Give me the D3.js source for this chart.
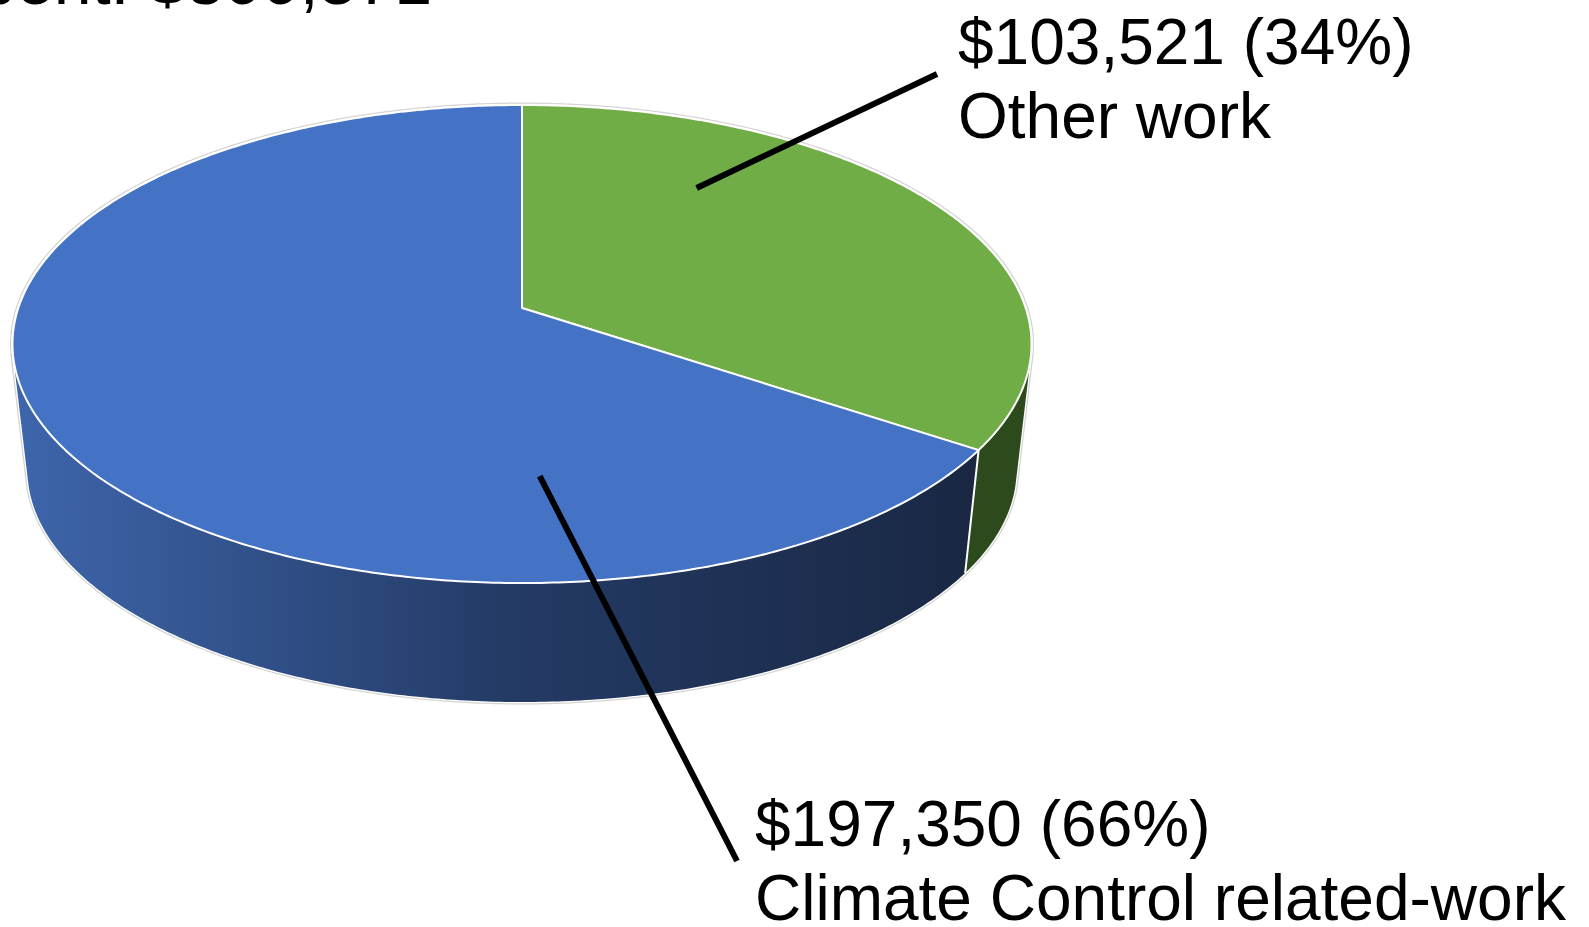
<!DOCTYPE html>
<html>
<head>
<meta charset="utf-8">
<script src="https://cdn.jsdelivr.net/npm/d3@7"></script>
<style>
  body { margin: 0; background: #fff; }
  text { font-family: "Liberation Sans", Arial, sans-serif; fill: #000; }
</style>
</head>
<body>
<script>
// chart data
var categories = ["Other work", "Climate Control related-work"];
var values = [103521, 197350];
var titlePrefix = "Total spent: ";

// size of the page
var width = 1589,
    height = 927;

// perspective of the 3D disc (top face is a projected circle)
var cx = 522, cy = 308;          // projected centre of the top face
var a = 233.6, b = -0.1507, c = 503.7;
var vx = 522, vy = 4630, k = 0.9706;  // bottom face = top face scaled toward vanishing point

function proj(angle, r, bottom) {
  var X = r * Math.sin(angle), z = -r * Math.cos(angle);
  var den = 1 + b * z;
  var x = cx + c * X / den, y = cy + a * z / den;
  if (bottom) { x = vx + k * (x - vx); y = vy + k * (y - vy); }
  return [x, y];
}

function arcPoints(a0, a1, bottom) {
  var n = Math.max(2, Math.ceil((a1 - a0) / 0.01));
  return d3.range(n + 1).map(function(i) { return proj(a0 + (a1 - a0) * i / n, 1, bottom); });
}

// side wall as a union of small quads, all wound the same way
function wallPath(a0, a1) {
  var t = arcPoints(a0, a1, false), bt = arcPoints(a0, a1, true), s = "";
  for (var i = 0; i < t.length - 1; i++) {
    var q = [t[i], t[i + 1], bt[i + 1], bt[i]];
    if (d3.polygonArea(q) < 0) q.reverse();
    s += line(q) + "Z";
  }
  return s;
}

var line = d3.line();

var svg = d3.select("body").append("svg")
    .attr("width", width)
    .attr("height", height);

// gradient for the blue side wall
var defs = svg.append("defs");
var grad = defs.append("linearGradient")
    .attr("id", "blueSide")
    .attr("gradientUnits", "userSpaceOnUse")
    .attr("x1", 12).attr("x2", 1031).attr("y1", 0).attr("y2", 0);
grad.append("stop").attr("offset", 0).attr("stop-color", "#3e66ac");
grad.append("stop").attr("offset", 0.48).attr("stop-color", "#243b66");
grad.append("stop").attr("offset", 1).attr("stop-color", "#18253f");

var topColors = ["#70ad47", "#4472c4"];
var sideColors = ["#2d4a1d", "url(#blueSide)"];

var pie = d3.pie().sort(null).value(function(d) { return d; });
var arcs = pie(values);

// outer silhouette: grey halo with a thin white rim inside it
var hull = d3.polygonHull(arcPoints(0, 2 * Math.PI, false).concat(arcPoints(0, 2 * Math.PI, true)));
svg.append("path")
    .attr("d", line(hull) + "Z")
    .attr("fill", "#fff")
    .attr("stroke", "#d4d4d4")
    .attr("stroke-width", 5)
    .attr("stroke-linejoin", "round");
svg.append("path")
    .attr("d", line(hull) + "Z")
    .attr("fill", "none")
    .attr("stroke", "#fff")
    .attr("stroke-width", 2.5)
    .attr("stroke-linejoin", "round");

// side walls
svg.selectAll(".side")
    .data(arcs)
    .enter().append("path")
    .attr("class", "side")
    .attr("d", function(d) { return wallPath(d.startAngle, d.endAngle); })
    .attr("fill", function(d, i) { return sideColors[i]; });

// seams between walls
svg.selectAll(".seam")
    .data(arcs)
    .enter().append("path")
    .attr("class", "seam")
    .attr("d", function(d) { return line([proj(d.endAngle, 1, false), proj(d.endAngle, 1, true)]); })
    .attr("stroke", "#fff")
    .attr("stroke-width", 2);

// top faces
svg.selectAll(".top")
    .data(arcs)
    .enter().append("path")
    .attr("class", "top")
    .attr("d", function(d) {
      return line([[cx, cy]].concat(arcPoints(d.startAngle, d.endAngle, false))) + "Z";
    })
    .attr("fill", function(d, i) { return topColors[i]; })
    .attr("stroke", "#fff")
    .attr("stroke-width", 2)
    .attr("stroke-linejoin", "round");

// labels with leader lines
var total = d3.sum(values);
var fmt = d3.format("$,");
var labels = [
  {anchor: proj(34 * Math.PI / 180, 0.672), end: [937, 74], x: 958, y: 64},
  {anchor: proj(177.2 * Math.PI / 180, 0.65), end: [737, 861], x: 755, y: 846}
];

labels.forEach(function(l, i) {
  svg.append("line")
      .attr("x1", l.anchor[0]).attr("y1", l.anchor[1])
      .attr("x2", l.end[0]).attr("y2", l.end[1])
      .attr("stroke", "#000")
      .attr("stroke-width", 6);
  var t = svg.append("text")
      .attr("x", l.x).attr("y", l.y)
      .attr("font-size", 64);
  t.append("tspan")
      .attr("x", l.x)
      .text(fmt(values[i]) + " (" + Math.round(values[i] / total * 100) + "%)");
  t.append("tspan")
      .attr("x", l.x).attr("dy", 74)
      .text(categories[i]);
});

// title, mostly cut off by the top edge
svg.append("text")
    .attr("x", 432).attr("y", 4)
    .attr("text-anchor", "end")
    .attr("font-size", 68)
    .text(titlePrefix + fmt(total));
</script>
</body>
</html>
